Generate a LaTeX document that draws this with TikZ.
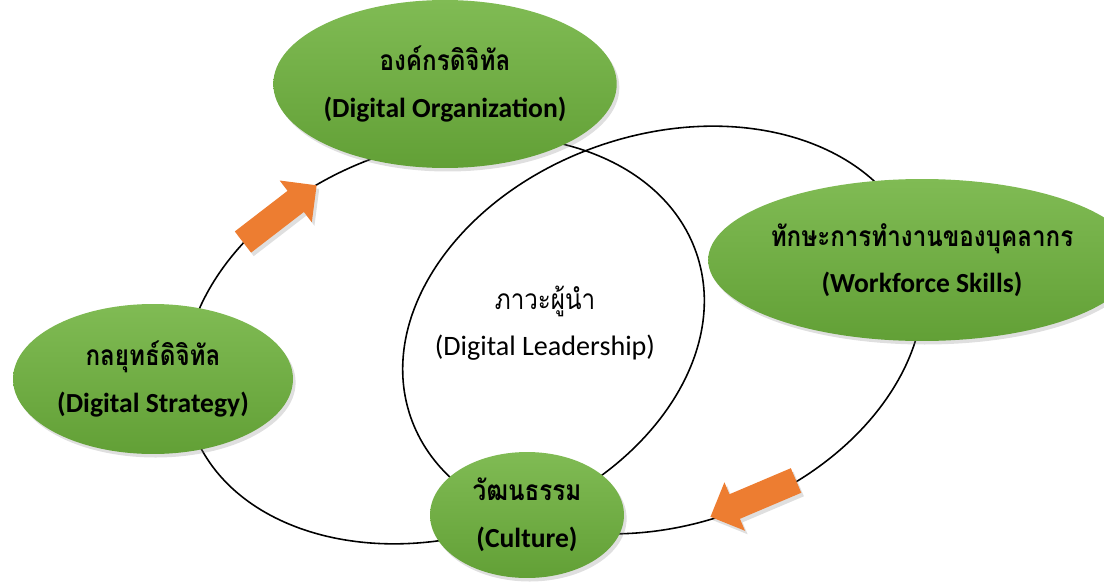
\documentclass[tikz,border=0pt]{standalone}
\usepackage{fontspec}
\setmainfont{Carlito}
\newfontfamily\thaifont[Script=Thai, FakeStretch=0.86]{Loma}
\usetikzlibrary{shapes.geometric, shapes.arrows, shadows}

\definecolor{leaflight}{RGB}{128,187,84}
\definecolor{leafdark}{RGB}{98,160,54}
\definecolor{arroworange}{RGB}{237,125,49}

\newcommand{\thailine}[1]{{\thaifont\fontsize{16}{26.5}\selectfont #1}}

\begin{document}
\begin{tikzpicture}[ % one unit is one pixel of the reference
x=0.02cm, y=-0.02cm,
ring/.style={ellipse, draw=black, line width=0.9pt, inner sep=0pt, minimum width=10.68cm, minimum height=7.8cm},
leaf/.style={ellipse, top color=leaflight, bottom color=leafdark, draw=none, inner sep=0pt, align=center, font=\fontsize{15.7}{26.5}\selectfont\bfseries, drop shadow={opacity=0.25, shadow xshift=1.5pt, shadow yshift=-2pt}},
block_arrow/.style={single arrow, fill=arroworange, draw=none, inner xsep=0pt, inner ysep=0.26cm, minimum height=1.86cm, minimum width=1.04cm, single arrow head extend=0.26cm, drop shadow={opacity=0.25, shadow xshift=1.5pt, shadow yshift=-2pt}},
plain_text/.style={align=center, font=\fontsize{16}{26.5}\selectfont}
]

\useasboundingbox (0,0) rectangle (1104,581);

\node[ring, rotate=19](ring_left) at (444,340) {};
\node[ring, rotate=19](ring_right) at (663,330) {};

\node[block_arrow, rotate=37.6, anchor=tip](arrow_up) at (317,185) {};
\node[block_arrow, rotate=203, anchor=tip](arrow_down) at (710,517) {};

\node[leaf, minimum width=6.6cm, minimum height=3.36cm](digital_org) at (445,84) {\thailine{องค์กรดิจิทัล}\\(Digital Organization)};
\node[leaf, minimum width=7.12cm, minimum height=3.24cm](workforce) at (922,260) {\thailine{ทักษะการทำงานของบุคลากร}\\(Workforce Skills)};
\node[leaf, minimum width=5.6cm, minimum height=3cm](strategy) at (153,379) {\thailine{กลยุทธ์ดิจิทัล}\\(Digital Strategy)};
\node[leaf, minimum width=3.88cm, minimum height=2.52cm](culture) at (527,515) {\thailine{วัฒนธรรม}\\(Culture)};

\node[plain_text](leadership) at (545,323) {\thailine{ภาวะผู้นำ}\\(Digital Leadership)};

\end{tikzpicture}
\end{document}
